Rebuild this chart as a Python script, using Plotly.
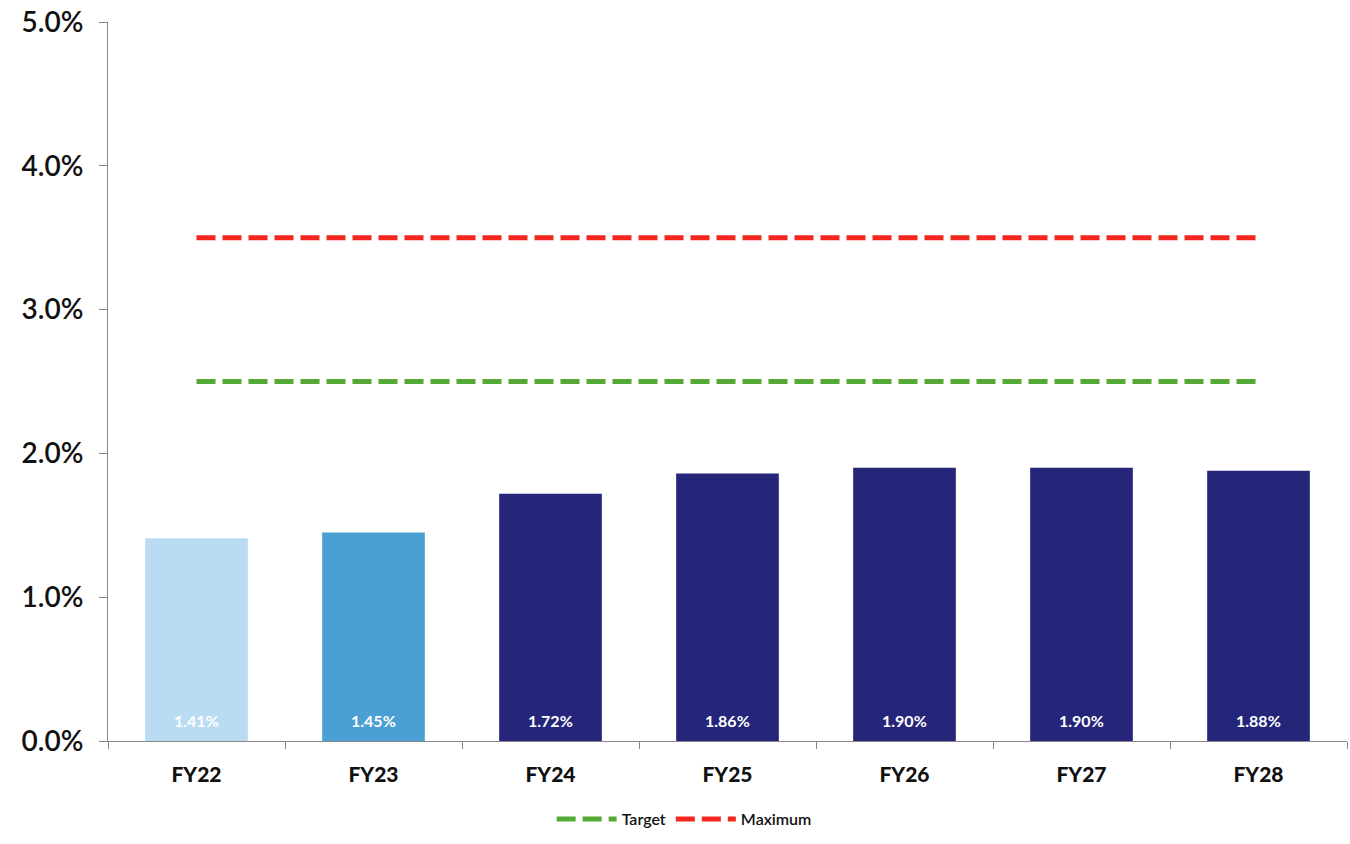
import plotly.graph_objects as go

# Data
years = ["FY22", "FY23", "FY24", "FY25", "FY26", "FY27", "FY28"]
ratio = [1.41, 1.45, 1.72, 1.86, 1.90, 1.90, 1.88]
target = [2.5] * len(years)
maximum = [3.5] * len(years)
y_ticks = [0, 1, 2, 3, 4, 5]
y_tick_labels = ["0.0%", "1.0%", "2.0%", "3.0%", "4.0%", "5.0%"]

bar_colors = ["#b9dcf3", "#4aa0d2", "#25257a", "#25257a", "#25257a", "#25257a", "#25257a"]
FONT = "Lato, 'Noto Sans', sans-serif"

fig = go.Figure()

fig.add_trace(go.Bar(
    x=years, y=ratio,
    marker=dict(color=bar_colors, line=dict(width=0)),
    showlegend=False,
    hoverinfo="skip",
))

fig.add_trace(go.Scatter(
    x=years, y=target, mode="lines", name="Target",
    line=dict(color="#55aa35", width=5, dash="19px,7px"),
))
fig.add_trace(go.Scatter(
    x=years, y=maximum, mode="lines", name="Maximum",
    line=dict(color="#f2261c", width=5, dash="19px,7px"),
))

# value labels near the base of each bar
for yr, v in zip(years, ratio):
    fig.add_annotation(
        x=yr, y=0, yshift=21, text=f"{v:.2f}%", showarrow=False,
        font=dict(color="white", size=16, family=FONT, weight=700),
    )

fig.update_layout(
    width=1350, height=844,
    margin=dict(l=108, r=3, t=22, b=103, autoexpand=False),
    paper_bgcolor="white", plot_bgcolor="white",
    bargap=0.42,
    font=dict(family=FONT, color="#111111"),
    legend=dict(
        orientation="h", x=0.465, xanchor="center", y=-0.085, yanchor="top",
        font=dict(size=16, color="#111111", weight=600),
        itemwidth=60,
    ),
    xaxis=dict(
        type="category",
        showline=True, linecolor="#888888", linewidth=1,
        ticks="outside", tickson="boundaries", ticklen=7, tickcolor="#888888",
        tickfont=dict(size=21, color="#111111", weight=900),
        ticklabelstandoff=15,
        showgrid=False, zeroline=False,
    ),
    yaxis=dict(
        range=[0, 5],
        tickvals=y_ticks, ticktext=y_tick_labels,
        showline=True, linecolor="#888888", linewidth=1,
        ticks="outside", ticklen=8, tickcolor="#888888",
        tickfont=dict(size=28, color="#111111", weight=600),
        showgrid=False, zeroline=False,
        ticklabelstandoff=10,
    ),
)

fig.write_html("out.html")
